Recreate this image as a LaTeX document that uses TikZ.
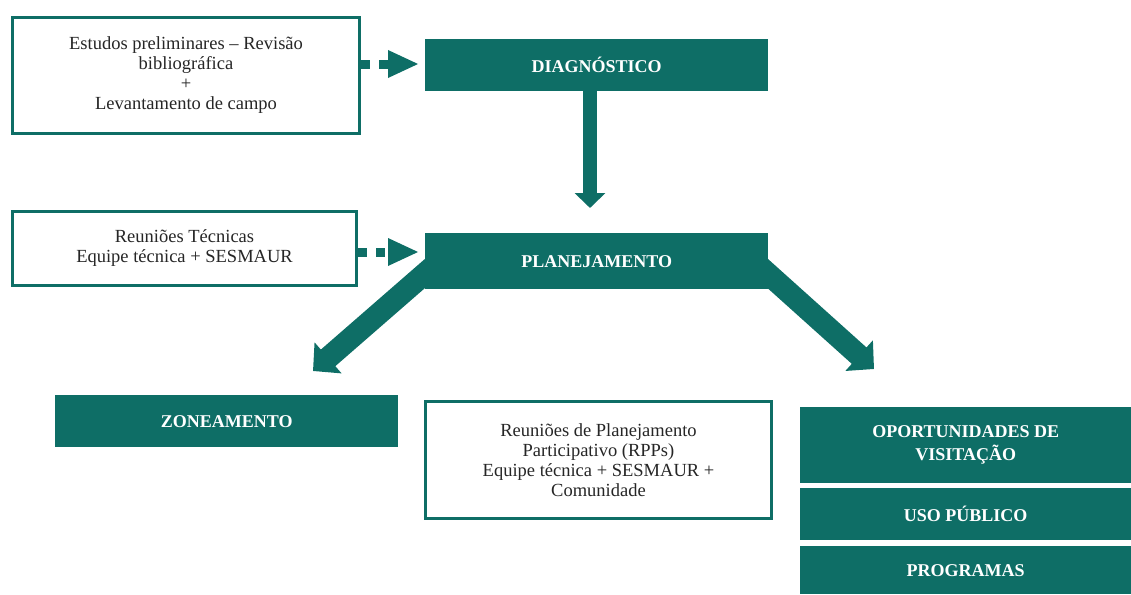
\documentclass[tikz,border=0pt]{standalone}
\usepackage{fontspec}
\setmainfont{Liberation Serif}
\usetikzlibrary{arrows.meta}
\definecolor{teal}{RGB}{14,110,102}
\tikzset{
  outbox/.style={draw=teal, line width=3pt, fill=white, align=center, anchor=north west, inner sep=0pt,
    font=\fontsize{18.5}{20}\selectfont, text=black!85},
  fillbox/.style={fill=teal, draw=none, align=center, anchor=north west, inner sep=0pt, text=white,
    font=\fontsize{18}{23}\selectfont\bfseries},
  dotarrow/.style={draw=teal, line width=9pt, dash pattern=on 9pt off 9pt},
  dothead/.style={fill=teal},
  bigarrow/.style={draw=teal, line width=14pt, -{Triangle[length=15pt,width=30pt]}},
  diagarrow/.style={draw=teal, line width=22pt, -{Triangle[length=20pt,width=40pt]}}
}
\begin{document}
\begin{tikzpicture}[x=1pt,y=-1pt]
\useasboundingbox (0,0) rectangle (1131,594);
% connectors drawn first (behind boxes)
\coordinate (ltip) at (313,371);
\coordinate (rtip) at (874,369);
\coordinate (lstart) at (437,263);
\coordinate (rstart) at (756,263);
\draw[diagarrow] (lstart) -- (ltip);
\draw[diagarrow] (rstart) -- (rtip);

% boxes
\node[outbox, minimum width=347pt, minimum height=116pt] (est) at (11,16) {Estudos preliminares -- Revisão\\bibliográfica\\+\\Levantamento de campo};
\node[fillbox, minimum width=343pt, minimum height=52pt] (diag) at (425,39) {DIAGNÓSTICO};
\node[outbox, minimum width=344pt, minimum height=74pt] (reu) at (11,210) {Reuniões Técnicas\\Equipe técnica + SESMAUR};
\node[fillbox, minimum width=343pt, minimum height=56pt] (plan) at (425,233) {PLANEJAMENTO};
\node[fillbox, minimum width=343pt, minimum height=52pt] (zone) at (55,395) {ZONEAMENTO};
\node[outbox, minimum width=346pt, minimum height=117pt] (rpp) at (424,400) {Reuniões de Planejamento\\Participativo (RPPs)\\Equipe técnica + SESMAUR +\\Comunidade};
\node[fillbox, minimum width=331pt, minimum height=76pt] (opo) at (800,407) {OPORTUNIDADES DE\\VISITAÇÃO};
\node[fillbox, minimum width=331pt, minimum height=52pt] (uso) at (800,488) {USO PÚBLICO};
\node[fillbox, minimum width=331pt, minimum height=48pt] (prog) at (800,546) {PROGRAMAS};

% vertical arrow
\coordinate (dtip) at (590,208);
\draw[bigarrow] (diag.south -| dtip) -- (dtip);

% dotted arrows
\coordinate (h1) at (388,64);
\draw[dotarrow] (est.east |- h1) -- (h1);
\fill[dothead] (388,50) -- (418,64) -- (388,78) -- cycle;
\coordinate (h2) at (388,252);
\draw[dotarrow] (reu.east |- h2) -- (h2);
\fill[dothead] (388,238) -- (418,252) -- (388,266) -- cycle;
\end{tikzpicture}
\end{document}
